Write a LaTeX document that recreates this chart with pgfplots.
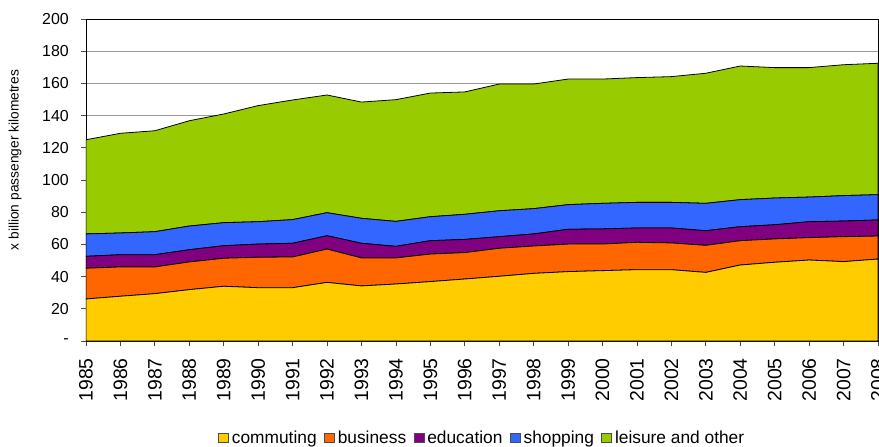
\documentclass[border=0pt]{standalone}
\usepackage{pgfplots}
\pgfplotsset{compat=1.18}
\usepackage{pgfplotstable}
\usepackage{fontspec}
\setmainfont{Liberation Sans}
\definecolor{ccomm}{HTML}{FFCC00}
\definecolor{cbus}{HTML}{FF6600}
\definecolor{cedu}{HTML}{800080}
\definecolor{cshop}{HTML}{3366FF}
\definecolor{cleis}{HTML}{99CC00}
\pgfplotstableread{
year comm bus edu shop leis
1985 26.1 19.1 7.4 13.9 58.5
1986 27.8 18.2 7.6 13.5 61.9
1987 29.4 16.6 7.6 14.3 62.7
1988 31.9 17.2 7.6 14.7 65.4
1989 34.0 17.4 7.8 14.3 67.5
1990 33.1 18.9 8.2 13.9 72.1
1991 33.1 19.1 8.5 14.7 74.3
1992 36.4 20.7 8.3 14.3 73.1
1993 34.2 17.4 9.1 15.5 72.2
1994 35.4 16.2 7.2 15.5 75.6
1995 36.9 17.1 8.3 14.9 76.8
1996 38.5 16.4 8.2 15.6 76.0
1997 40.2 17.4 7.2 16.1 78.7
1998 42.0 17.0 7.5 15.7 77.4
1999 43.1 17.1 9.2 15.3 78.0
2000 43.7 16.5 9.4 15.9 77.2
2001 44.3 17.0 8.9 15.9 77.5
2002 44.3 16.6 9.3 15.9 78.1
2003 42.6 16.8 9.1 17.0 80.8
2004 47.2 15.1 8.7 16.8 83.0
2005 48.9 14.5 8.8 16.6 81.0
2006 50.3 13.9 9.9 15.3 80.4
2007 49.3 15.5 9.7 15.8 81.3
2008 50.9 14.3 10.0 15.7 81.6
}\data
\begin{document}
\begin{tikzpicture}
\begin{axis}[
  scale only axis,
  width=792bp, height=322bp,
  xmin=1985, xmax=2008,
  ymin=0, ymax=200,
  xtick={1985,1986,...,2008},
  ytick={0,20,40,60,80,100,120,140,160,180,200},
  yticklabels={-,20,40,60,80,100,120,140,160,180,200},
  /pgf/number format/1000 sep={},
  /pgf/number format/assume math mode=true,
  tick pos=left,
  tick align=outside,
  major tick length=5bp,
  tick style={black!70, line width=0.8pt},
  x tick label style={rotate=90, anchor=east, font=\fontsize{19.5}{21}\selectfont, inner xsep=12bp, inner ysep=0bp},
  y tick label style={font=\fontsize{16}{18}\selectfont, inner xsep=12bp},
  ylabel={x billion passenger kilometres},
  ylabel style={font=\fontsize{13.8}{15}\selectfont, at={(axis description cs:-0.0896,0.562)}, anchor=center},
  ymajorgrids,
  grid style={gray!80, line width=0.8pt},
  axis line style={black, line width=0.8pt},
  stack plots=y,
  legend columns=5,
  legend style={at={(0.5,-0.265)}, anchor=north, draw=none, font=\fontsize{17.4}{19}\selectfont,
    nodes={inner xsep=1.5bp},
    /tikz/every odd column/.append style={column sep=1.5bp},
    /tikz/every even column/.append style={column sep=6bp}},
  legend image code/.code={\draw[#1, draw=black!70, line width=0.6pt] (0bp,-4.5bp) rectangle (10bp,4.5bp);},
  legend cell align=left,
]
\addplot[fill=ccomm, draw=black, line width=0.8pt] table[x=year,y=comm] {\data} \closedcycle;
\addlegendentry{commuting}
\addplot[fill=cbus, draw=black, line width=0.8pt] table[x=year,y=bus] {\data} \closedcycle;
\addlegendentry{business}
\addplot[fill=cedu, draw=black, line width=0.8pt] table[x=year,y=edu] {\data} \closedcycle;
\addlegendentry{education}
\addplot[fill=cshop, draw=black, line width=0.8pt] table[x=year,y=shop] {\data} \closedcycle;
\addlegendentry{shopping}
\addplot[fill=cleis, draw=black, line width=0.8pt] table[x=year,y=leis] {\data} \closedcycle;
\addlegendentry{leisure and other}
\coordinate (bl) at (rel axis cs:0,0);
\coordinate (tr) at (rel axis cs:1,1);
\end{axis}
\pgfresetboundingbox
\path[use as bounding box] ([shift={(-86bp,-106bp)}]bl) rectangle ([shift={(1bp,19bp)}]tr);
\end{tikzpicture}
\end{document}
